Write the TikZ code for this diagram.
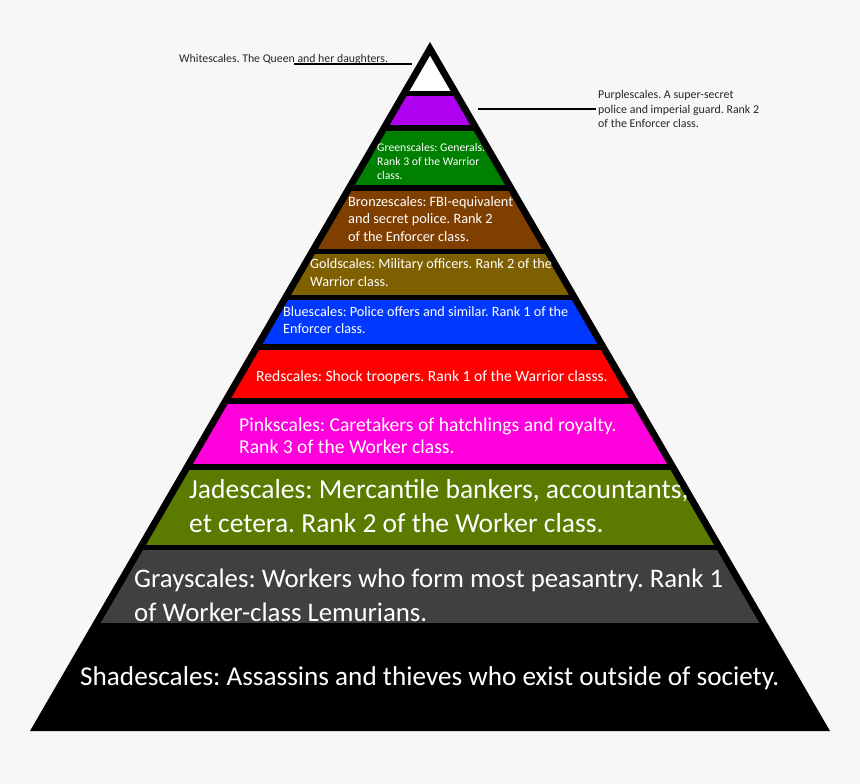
\documentclass[tikz,border=0pt]{standalone}
\usepackage{fontspec}
\setmainfont{Carlito}
\definecolor{bg}{HTML}{F7F7F7}
\definecolor{cpurple}{HTML}{B000F0}
\definecolor{cgreen}{HTML}{008000}
\definecolor{cbronze}{HTML}{7F3F00}
\definecolor{cgold}{HTML}{7F6000}
\definecolor{cblue}{HTML}{0038FF}
\definecolor{cred}{HTML}{FF0000}
\definecolor{cpink}{HTML}{FF00DC}
\definecolor{cjade}{HTML}{5B7B00}
\definecolor{cgray}{HTML}{404040}
\begin{document}
\frenchspacing
\begin{tikzpicture}[x=1pt,y=-1pt,
  tier/.style={anchor=west,inner sep=0pt,align=left,text=white},
  note/.style={anchor=west,inner sep=0pt,align=left,text=black!85},
  leader/.style={draw=black,line width=1.3pt}]
\useasboundingbox (0,0) rectangle (860,784);
\fill[bg] (0,0) rectangle (860,784);
% outer black pyramid
\fill[black] (430,42) -- (830,731) -- (30,731) -- cycle;
% bands, clipped to the inner triangle
\begin{scope}
  \clip (430,55.8) -- (822,731) -- (38,731) -- cycle;
  \fill[white]   (0,40)  rectangle (860,91);
  \fill[cpurple] (0,96)  rectangle (860,125);
  \fill[cgreen]  (0,131) rectangle (860,185);
  \fill[cbronze] (0,191) rectangle (860,249);
  \fill[cgold]   (0,254) rectangle (860,295);
  \fill[cblue]   (0,300) rectangle (860,344);
  \fill[cred]    (0,350) rectangle (860,398);
  \fill[cpink]   (0,404) rectangle (860,464);
  \fill[cjade]   (0,470) rectangle (860,545);
  \fill[cgray]   (0,550) rectangle (860,623);
\end{scope}
% labels
\node[note,font=\fontsize{11.8}{14}\selectfont] (white) at (179,59) {Whitescales. The Queen and her daughters.};
\node[note,font=\fontsize{11.9}{14.5}\selectfont] (purple) at (598,109) {Purplescales. A super-secret\\police and imperial guard. Rank 2\\of the Enforcer class.};
\node[tier,font=\fontsize{11.7}{14}\selectfont] (green) at (377,161) {Greenscales: Generals.\\Rank 3 of the Warrior\\class.};
\node[tier,font=\fontsize{14.3}{17.5}\selectfont] (bronze) at (348,219) {Bronzescales: FBI-equivalent\\and secret police. Rank 2\\of the Enforcer class.};
\node[tier,font=\fontsize{14.2}{18}\selectfont] (gold) at (310,273) {Goldscales: Military officers. Rank 2 of the\\Warrior class.};
\node[tier,font=\fontsize{14.2}{17}\selectfont] (blue) at (283,320) {Bluescales: Police offers and similar. Rank 1 of the\\Enforcer class.};
\node[tier,font=\fontsize{15.6}{17}\selectfont] (red) at (256,377) {Redscales: Shock troopers. Rank 1 of the Warrior classs.};
\node[tier,font=\fontsize{19.6}{22}\selectfont] (pink) at (239,436) {Pinkscales: Caretakers of hatchlings and royalty.\\Rank 3 of the Worker class.};
\node[tier,font=\fontsize{27.5}{34}\selectfont] (jade) at (189,506) {Jadescales: Mercantile bankers, accountants,\\et cetera. Rank 2 of the Worker class.};
\node[tier,font=\fontsize{26.8}{34}\selectfont] (gray) at (134,595) {Grayscales: Workers who form most peasantry. Rank 1\\of Worker-class Lemurians.};
\node[tier,font=\fontsize{27.2}{33}\selectfont] (shade) at (80,678) {Shadescales: Assassins and thieves who exist outside of society.};
% leader lines
\coordinate (wa) at (294,64);
\coordinate (wb) at (412,64);
\coordinate (pa) at (478,109);
\coordinate (pb) at (596,109);
\draw[leader] (wa) -- (wb);
\draw[leader] (pa) -- (pb);
\end{tikzpicture}
\end{document}
